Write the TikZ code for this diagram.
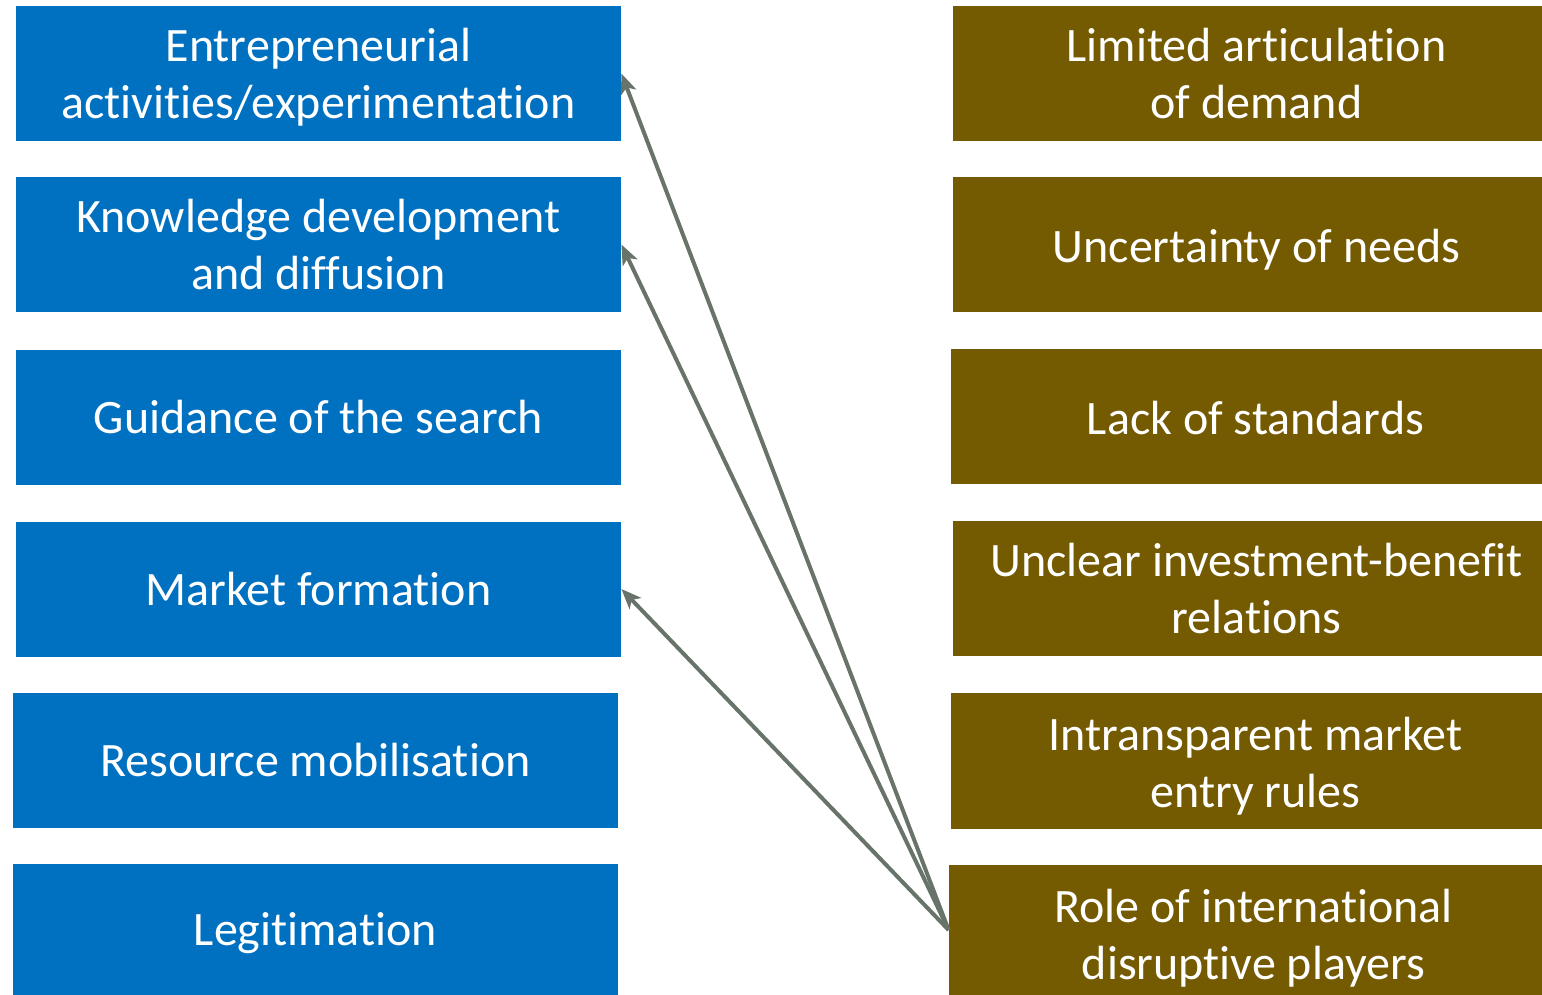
\documentclass[tikz,border=0pt]{standalone}
\usepackage{fontspec}
\setmainfont[Ligatures=NoCommon]{Carlito}
\usetikzlibrary{arrows.meta}
\definecolor{tisblue}{HTML}{0070C0}
\definecolor{barbrown}{HTML}{745A00}
\definecolor{linkgray}{HTML}{687469}
\begin{document}
\begin{tikzpicture}[x=0.5pt,y=-0.5pt,
     fn/.style={rectangle,fill=tisblue,text=white,align=center,inner sep=0pt,
        minimum width=302.5pt,minimum height=67.5pt,
        font=\fontsize{24}{28.5}\selectfont},
     bar/.style={fn,fill=barbrown,minimum width=294.5pt},
     bartext/.style={text=white,align=center,inner sep=0pt,
        font=\fontsize{24}{28.5}\selectfont},
     link/.style={draw=linkgray,line width=2pt,-{Stealth[length=10pt,width=8pt,inset=2.5pt]}}
     ]
\useasboundingbox (0,0) rectangle (1542,995);

%Functions of the innovation system (left column)
\node (ent)[fn] at (318.5,73.5) {\strut Entrepreneurial\\activities/experimentation};
\node (know)[fn] at (318.5,244.5) {Knowledge development\\and diffusion};
\node (guid)[fn] at (318.5,417.5) {Guidance of the search};
\node (mark)[fn] at (318.5,589) {Market formation};
\node (res)[fn] at (315.5,760.5) {Resource mobilisation};
% last box runs off the page
\node (legit)[fn,minimum height=69pt] at (315.5,933) {Legitimation};

%Barriers (right column), text set a little right of centre
\node (dem)[bar] at (1247.5,73.5) {};
\node (need)[bar] at (1247.5,244.5) {};
\node (std)[bar,minimum width=295.5pt] at (1246.5,416.5) {};
\node (inv)[bar] at (1247.5,588.5) {};
\node (entry)[bar,minimum width=295.5pt,minimum height=68pt] at (1246.5,761) {};
\node (role)[bar,minimum width=296.5pt,minimum height=65pt] at (1245.5,930) {};

\node (dem-t)[bartext] at ([xshift=4.5pt]dem.center) {Limited articulation\\of demand};
\node (need-t)[bartext] at ([xshift=4.5pt,yshift=-2.5pt]need.center) {Uncertainty of needs};
\node (std-t)[bartext] at ([xshift=4.5pt,yshift=-1pt]std.center) {Lack of standards};
\node (inv-t)[bartext] at ([xshift=4.5pt]inv.center) {Unclear investment-benefit\\relations};
\node (entry-t)[bartext] at ([xshift=4.5pt,yshift=-2.5pt]entry.center) {Intransparent market\\entry rules};
\node (role-t)[bartext] at ([xshift=4pt,yshift=-4pt]role.center) {Role of international\\disruptive players};

%Links
\draw[link] (role.west) -- (ent.east);
\draw[link] (role.west) -- (know.east);
\draw[link] (role.west) -- (mark.east);
\end{tikzpicture}
\end{document}
